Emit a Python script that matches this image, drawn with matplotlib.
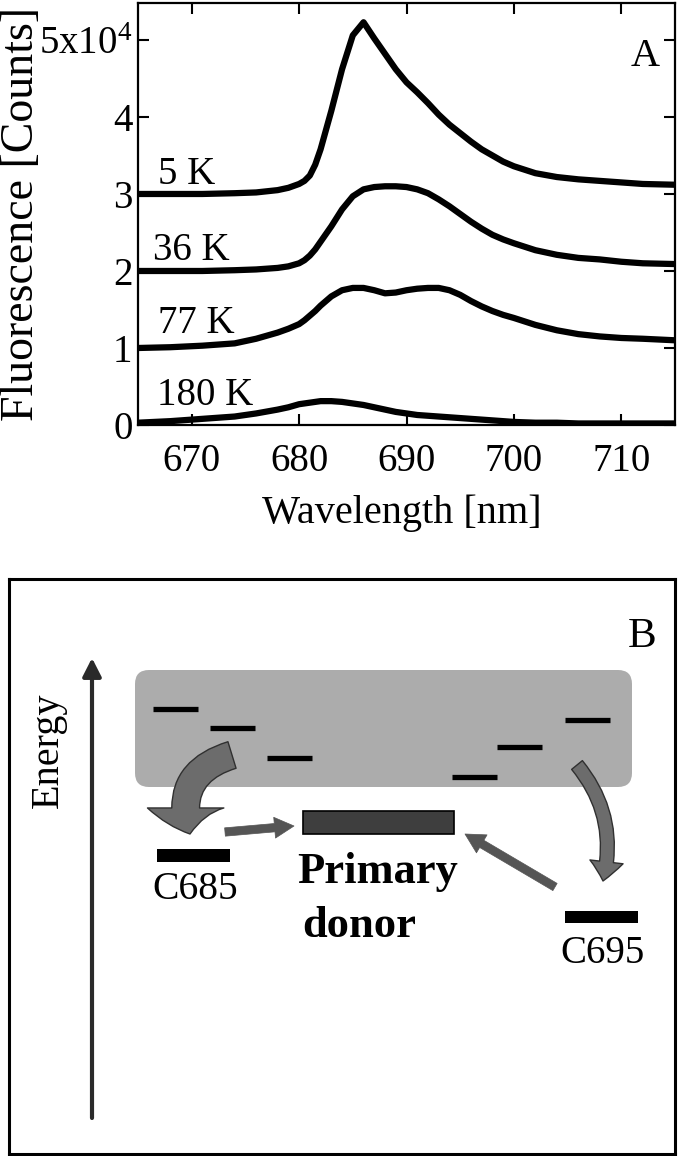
import matplotlib.pyplot as plt
from matplotlib.patches import FancyBboxPatch, FancyArrowPatch, Rectangle

plt.rcParams['font.family'] = 'Liberation Serif'
plt.rcParams['mathtext.default'] = 'regular'

# ---- panel A: fluorescence spectra, units of 10^4 counts, stacked with offsets
wavelength = [665, 668, 671, 674, 676, 678, 679, 680, 680.5, 681, 681.5, 682, 683, 684, 685,
              686, 687, 688, 689, 690, 691, 692, 693, 694, 695, 696, 697, 698, 699, 700,
              702, 704, 706, 708, 710, 712, 715]
spec_5K = [0.0, 0.0, 0.0, 0.01, 0.02, 0.05, 0.08, 0.13, 0.17, 0.24, 0.38, 0.58, 1.08, 1.62,
           2.06, 2.23, 2.02, 1.82, 1.62, 1.45, 1.32, 1.18, 1.03, 0.9, 0.79, 0.68, 0.58, 0.5,
           0.42, 0.36, 0.27, 0.22, 0.19, 0.17, 0.15, 0.13, 0.12]
spec_36K = [0.0, 0.0, 0.0, 0.01, 0.02, 0.04, 0.06, 0.1, 0.14, 0.2, 0.28, 0.38, 0.58, 0.8,
            0.97, 1.06, 1.09, 1.1, 1.1, 1.09, 1.06, 1.01, 0.93, 0.84, 0.74, 0.64, 0.55, 0.47,
            0.41, 0.36, 0.27, 0.21, 0.17, 0.15, 0.12, 0.1, 0.09]
spec_77K = [0.0, 0.01, 0.03, 0.06, 0.12, 0.2, 0.25, 0.31, 0.36, 0.42, 0.48, 0.55, 0.67, 0.75,
            0.78, 0.78, 0.75, 0.71, 0.72, 0.75, 0.77, 0.78, 0.78, 0.75, 0.69, 0.61, 0.54, 0.48,
            0.43, 0.39, 0.3, 0.23, 0.18, 0.15, 0.13, 0.12, 0.1]
spec_180K = [0.03, 0.05, 0.08, 0.11, 0.15, 0.2, 0.23, 0.27, 0.28, 0.29, 0.3, 0.31, 0.31, 0.3,
             0.28, 0.26, 0.23, 0.2, 0.17, 0.15, 0.13, 0.12, 0.11, 0.1, 0.09, 0.08, 0.07, 0.06,
             0.05, 0.04, 0.03, 0.03, 0.02, 0.02, 0.02, 0.02, 0.02]
spectra = [spec_5K, spec_36K, spec_77K, spec_180K]
temperatures = ['5 K', '36 K', '77 K', '180 K']
offsets = [3, 2, 1, 0]
label_x = [666.9, 666.4, 666.9, 666.8]
label_y = [3.13, 2.14, 1.19, 0.26]
ytick_vals = [0, 1, 2, 3, 4, 5]
ytick_text = ['0', '1', '2', '3', '4', r'5x10$^4$']
xtick_vals = [670, 680, 690, 700, 710]

# ---- panel B: energy level scheme (pixel coordinates of the schematic)
level_x0 = [153, 210, 267, 452, 497, 565]
level_y = [709, 728, 758, 777, 747, 720]
level_len = 45

W, H = 682, 1156
fig = plt.figure(figsize=(W / 100, H / 100), dpi=100)

# Panel A
ax = fig.add_axes([138 / W, 1 - 425 / H, 537 / W, 422 / H])
for spec, off, lab, lx, ly in zip(spectra, offsets, temperatures, label_x, label_y):
    ax.plot(wavelength, [v + off for v in spec], color='black', lw=4.5,
            solid_capstyle='butt', solid_joinstyle='round')
    ax.text(lx, ly, lab, fontsize=28, ha='left', va='baseline')
ax.set_xlim(665, 715)
ax.set_ylim(0, 5.48)
ax.set_xticks(xtick_vals)
ax.set_yticks(ytick_vals)
ax.set_yticklabels(ytick_text)
ax.tick_params(direction='in', length=8, width=1.5, top=True, right=True, labelsize=28)
ax.tick_params(axis='x', pad=13)
ax.tick_params(axis='y', pad=4)
for s in ax.spines.values():
    s.set_linewidth(1.6)
ax.set_xlabel('Wavelength [nm]', fontsize=29)
ax.xaxis.set_label_coords(0.4916, -0.165)
ax.set_ylabel('Fluorescence [Counts]', fontsize=33)
ax.yaxis.set_label_coords(-0.176, 0.5)
ax.text(712.2, 4.78, 'A', fontsize=29, ha='center', va='center')

# Panel B
bx = fig.add_axes([9 / W, 2 / H, 666 / W, 575 / H])
bx.set_xlim(9, 675)
bx.set_ylim(1154, 579)
bx.set_xticks([])
bx.set_yticks([])
for s in bx.spines.values():
    s.set_linewidth(2.2)

bx.add_patch(FancyArrowPatch((92, 1118), (92, 658), arrowstyle='-|>,head_length=0.55,head_width=0.28',
                             mutation_scale=20, lw=3, color='#2a2a2a', shrinkA=0, shrinkB=0))
bx.text(48, 750, 'Energy', rotation=90, fontsize=29, ha='center', va='center')
bx.text(642, 637, 'B', fontsize=31, ha='center', va='center')

bx.add_patch(FancyBboxPatch((135, 670), 497, 117, boxstyle='round,pad=0,rounding_size=14',
                            facecolor='#acacac', edgecolor='none'))
bx.hlines(level_y, level_x0, [x + level_len for x in level_x0], colors='black', lw=3.8, capstyle='butt')

bx.add_patch(Rectangle((303, 811), 151, 23, facecolor='#3e3e3e', edgecolor='black', lw=1.2))
bx.add_patch(Rectangle((157, 849), 73, 13, facecolor='black', edgecolor='none'))
bx.add_patch(Rectangle((565, 911), 73, 12, facecolor='black', edgecolor='none'))

bx.text(195, 899, 'C685', fontsize=28.5, ha='center', va='baseline')
bx.text(602, 963, 'C695', fontsize=28, ha='center', va='baseline')
bx.text(297, 883, 'Primary', fontsize=32, fontweight='bold', ha='left', va='baseline')
bx.text(302, 937, 'donor', fontsize=32, fontweight='bold', ha='left', va='baseline')

# curved transfer arrows from the antenna pool
bx.add_patch(FancyArrowPatch((232, 755), (190, 834), connectionstyle='arc3,rad=0.5',
                             arrowstyle='simple,head_length=19,head_width=55,tail_width=20',
                             facecolor='#6c6c6c', edgecolor='#303030', lw=1, shrinkA=0, shrinkB=0))
bx.add_patch(FancyArrowPatch((577, 765), (603, 881), connectionstyle='arc3,rad=-0.25',
                             arrowstyle='simple,head_length=14,head_width=24,tail_width=10',
                             facecolor='#6c6c6c', edgecolor='#303030', lw=1, shrinkA=0, shrinkB=0))
# straight arrows into primary donor
bx.add_patch(FancyArrowPatch((225, 832), (294, 826),
                             arrowstyle='simple,head_length=14,head_width=15,tail_width=6',
                             facecolor='#555555', edgecolor='#555555', lw=0.5, shrinkA=0, shrinkB=0))
bx.add_patch(FancyArrowPatch((555, 887), (465, 834),
                             arrowstyle='simple,head_length=14,head_width=15,tail_width=6',
                             facecolor='#555555', edgecolor='#555555', lw=0.5, shrinkA=0, shrinkB=0))

fig.savefig('out.png', dpi=100)
